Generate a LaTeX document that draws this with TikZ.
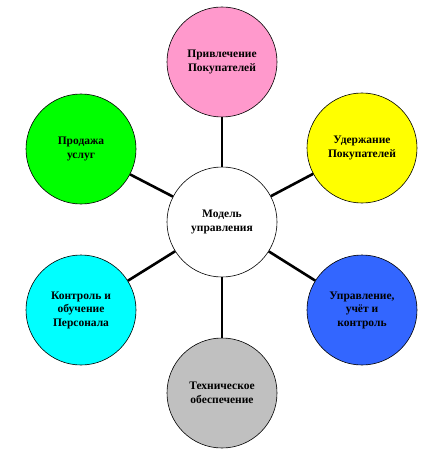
\documentclass[tikz,border=0pt]{standalone}
\usepackage{fontspec}
\setmainfont{Liberation Serif}
\usepackage{tikz}
\definecolor{rozov}{RGB}{255,153,204}
\definecolor{zelen}{RGB}{0,255,0}
\definecolor{zhelt}{RGB}{255,255,0}
\definecolor{goluboj}{RGB}{0,255,255}
\definecolor{sinij}{RGB}{51,102,255}
\definecolor{seryj}{RGB}{192,192,192}
\begin{document}
\begin{tikzpicture}[x=1pt,y=-1pt,
krug/.style={circle,draw=black,line width=0.6pt,minimum size=110pt,inner sep=0pt,align=center,font=\fontsize{11.5}{13.5}\selectfont\bfseries},
svyaz/.style={line width=2.6pt,black}
]
\useasboundingbox (0,0) rectangle (439,457);
\node[krug,fill=white] (model) at (222,222) {Модель\\управления};
\node[krug,fill=rozov] (privl) at (222,62) {Привлечение\\Покупателей};
\node[krug,fill=zhelt] (uderzh) at (362,148) {Удержание\\Покупателей};
\node[krug,fill=sinij] (uprav) at (362,310) {Управление,\\учёт и\\контроль};
\node[krug,fill=seryj] (tekh) at (222,393) {Техническое\\обеспечение};
\node[krug,fill=goluboj] (kontr) at (81,310) {Контроль и\\обучение\\Персонала};
\node[krug,fill=zelen] (prod) at (81,149) {Продажа\\услуг};
\draw[svyaz](model)--(privl);
\draw[svyaz](model)--(uderzh);
\draw[svyaz](model)--(uprav);
\draw[svyaz](model)--(tekh);
\draw[svyaz](model)--(kontr);
\draw[svyaz](model)--(prod);
\end{tikzpicture}
\end{document}
